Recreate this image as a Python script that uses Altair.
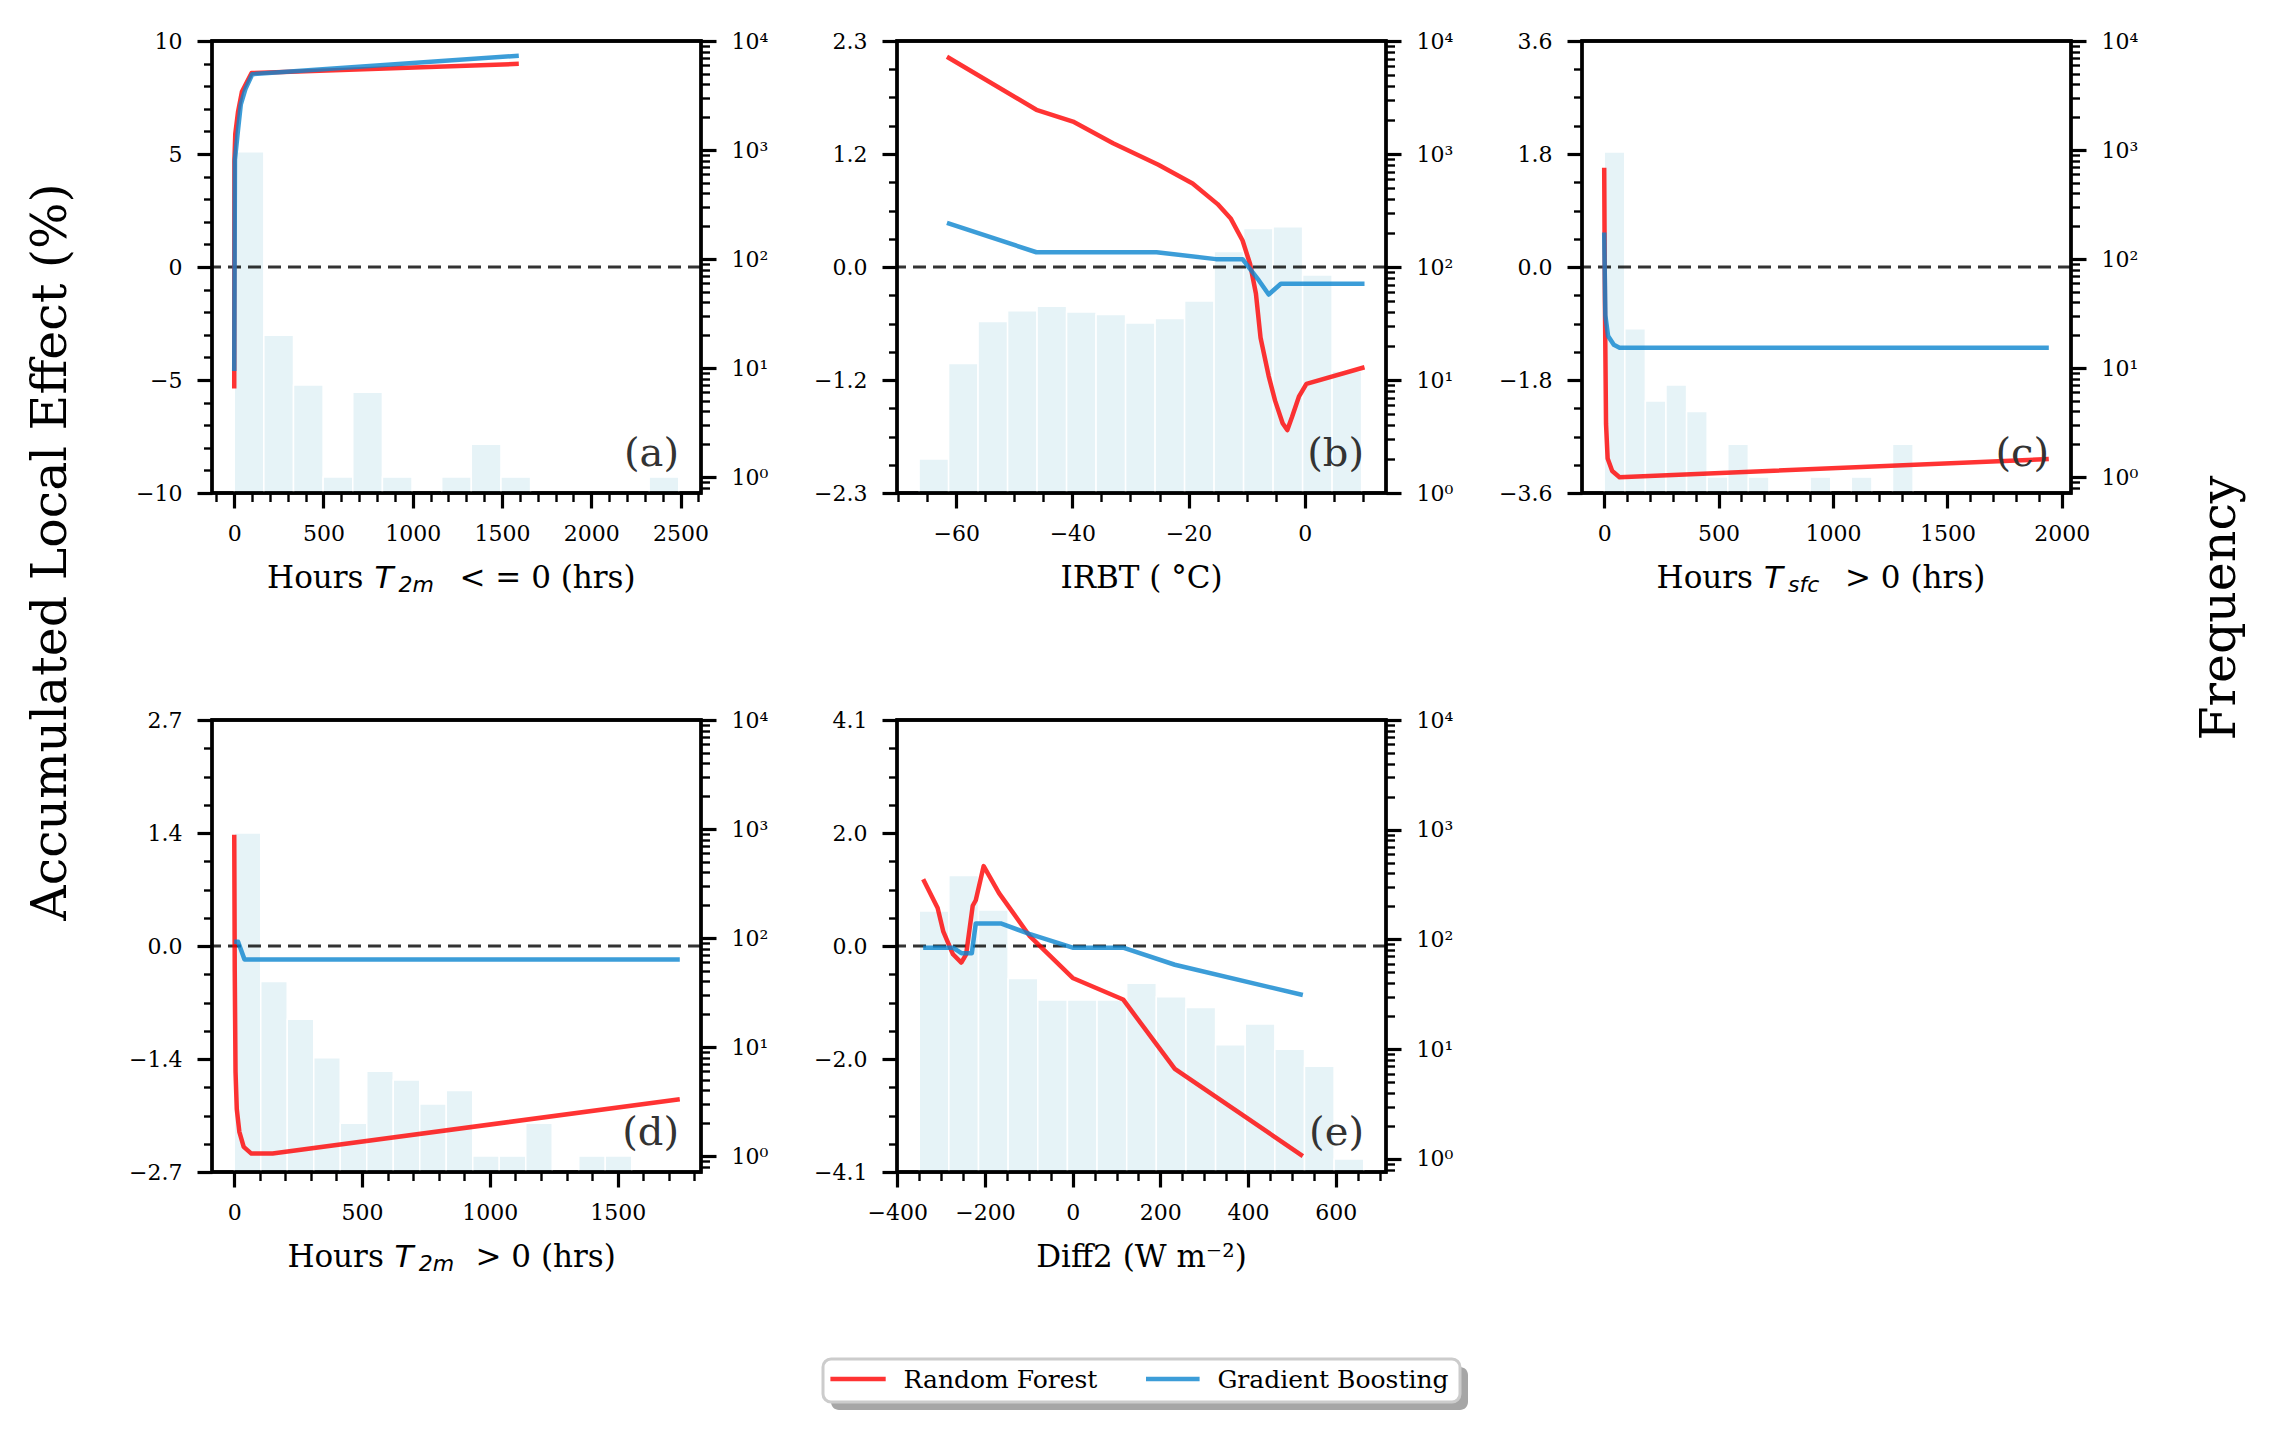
import altair as alt
import pandas as pd
import math

SERIF = "DejaVu Serif"
SANS = "DejaVu Sans"

MODELS = ["Random Forest", "Gradient Boosting"]
LINE_COLORS = ["#ff0000", "#0b84ce"]
BAR_COLOR = "#add8e6"
PANEL_LABELS = ["(a)", "(b)", "(c)", "(d)", "(e)"]
Y_TITLE = "Accumulated Local Effect (%)"
F_TITLE = "Frequency"

# ---------------- panel (a): Hours T2m <= 0 ----------------
a_rf_x = [0, 1, 6, 21, 43, 97, 1594]
a_rf_y = [-5.38, 4.7, 5.9, 6.85, 7.75, 8.58, 8.99]
a_gb_x = [0, 4, 21, 37, 64, 101, 1594]
a_gb_y = [-4.6, 4.75, 6.05, 7.2, 7.9, 8.53, 9.35]
a_edges = [0, 166, 332, 498, 664, 830, 996, 1162, 1328, 1494, 1660, 1826, 1992, 2158, 2324, 2490]
a_counts = [962, 20, 7, 1, 6, 1, 0, 1, 2, 1, 0, 0, 0, 0, 1]

# ---------------- panel (b): IRBT ----------------
b_rf_x = [-61.6, -46.2, -39.9, -33.0, -25.2, -19.3, -15.0, -12.7, -10.7, -9.4, -8.4, -7.6,
          -6.2, -5.1, -3.8, -3.0, -2.2, -1.0, 0.3, 10.3]
b_rf_y = [2.14, 1.60, 1.48, 1.26, 1.04, 0.85, 0.64, 0.49, 0.27, 0.03, -0.27, -0.72,
          -1.11, -1.36, -1.59, -1.66, -1.53, -1.32, -1.19, -1.02]
b_gb_x = [-61.6, -46.2, -25.5, -15.3, -10.7, -8.1, -6.2, -4.1, 10.3]
b_gb_y = [0.45, 0.15, 0.15, 0.08, 0.08, -0.12, -0.28, -0.17, -0.17]
b_edges = [-66.4, -61.32, -56.24, -51.16, -46.08, -41.0, -35.92, -30.84, -25.76, -20.68,
           -15.6, -10.52, -5.44, -0.36, 4.72, 9.8]
b_counts = [2, 14, 33, 41, 45, 40, 38, 32, 35, 50, 137, 219, 227, 85, 12]

# ---------------- panel (c): Hours Tsfc > 0 ----------------
c_rf_x = [0, 3, 8, 15, 35, 67, 1943]
c_rf_y = [1.58, -0.5, -2.5, -3.05, -3.25, -3.35, -3.06]
c_gb_x = [0, 5, 17, 42, 67, 1943]
c_gb_y = [0.55, -0.77, -1.1, -1.24, -1.285, -1.285]
c_edges = [0, 90, 180, 270, 360, 450, 540, 630, 720, 810, 900, 990, 1080, 1170, 1260, 1350]
c_counts = [960, 23, 5, 7, 4, 1, 2, 1, 0, 0, 1, 0, 1, 0, 2]

# ---------------- panel (d): Hours T2m > 0 ----------------
d_rf_x = [0, 2, 5, 10, 20, 37, 67, 150, 1743]
d_rf_y = [1.33, -0.3, -1.5, -1.95, -2.22, -2.40, -2.48, -2.48, -1.83]
d_gb_x = [0, 15, 40, 1743]
d_gb_y = [0.05, 0.05, -0.16, -0.16]
d_edges = [0, 103.7, 207.3, 311, 414.7, 518.3, 622, 725.7, 829.3, 933, 1036.7, 1140.3,
           1244, 1347.7, 1451.3, 1555]
d_counts = [918, 40, 18, 8, 2, 6, 5, 3, 4, 1, 1, 2, 0, 1, 1]

# ---------------- panel (e): Diff2 ----------------
e_rf_x = [-341, -308, -295, -273, -254, -243, -228, -221, -203, -168, -99, 0, 115, 233, 525]
e_rf_y = [1.21, 0.69, 0.26, -0.15, -0.30, -0.15, 0.73, 0.83, 1.45, 0.96, 0.19, -0.58,
          -0.97, -2.23, -3.81]
e_gb_x = [-341, -273, -254, -230, -221, -164, -99, 0, 115, 233, 525]
e_gb_y = [-0.03, -0.03, -0.13, -0.13, 0.41, 0.41, 0.22, -0.03, -0.03, -0.34, -0.89]
e_edges = [-350, -282.4, -214.8, -147.2, -79.6, -12, 55.6, 123.2, 190.8, 258.4, 326,
           393.6, 461.2, 528.8, 596.4, 664]
e_counts = [182, 383, 186, 44, 28, 28, 28, 40, 30, 24, 11, 17, 10, 7, 1]

W, H = 489, 452
TITLE_Y = H + 95


# ---------------- helpers ----------------
def is_major(majors):
    return "indexof([" + ",".join(repr(float(m)) for m in majors) + "], datum.value) >= 0"


def lookup_expr(majors, labels):
    s = ""
    for m, l in zip(majors, labels):
        s += f"datum.value === {float(m)!r} ? '{l}' : "
    return s + "''"


def tick_size(majors):
    return {"condition": {"test": is_major(majors), "value": 15}, "value": 8.5}


def tick_width(majors):
    return {"condition": {"test": is_major(majors), "value": 3.2}, "value": 2.4}


def minor_ticks(lo, hi, step, majors):
    out = []
    k0 = math.ceil(lo / step - 1e-9)
    k1 = math.floor(hi / step + 1e-9)
    for k in range(k0, k1 + 1):
        v = round(k * step, 8)
        if all(abs(v - m) > 1e-6 for m in majors):
            out.append(v)
    return out


def x_axis(majors, step, dom):
    mins = minor_ticks(dom[0], dom[1], step, majors)
    return alt.Axis(values=[float(v) for v in majors] + mins, format="d",
                    labelExpr=f"{is_major(majors)} ? datum.label : ''",
                    tickSize=tick_size(majors), tickWidth=tick_width(majors),
                    labelPadding=15, labelFlush=False, labelOverlap=False, title=None)


def y_axis(vmax, ndiv, labels):
    majors = [vmax, vmax / 2, 0.0, -vmax / 2, -vmax]
    step = vmax / (2 * ndiv)
    mins = minor_ticks(-vmax, vmax, step, majors)
    return alt.Axis(orient="left", values=[float(v) for v in majors] + mins,
                    labelExpr=lookup_expr(majors, labels),
                    tickSize=tick_size(majors), tickWidth=tick_width(majors),
                    labelPadding=15, labelFlush=False, labelOverlap=False, title=None)


SUP = {1: "10\u2070", 10: "10\u00b9", 100: "10\u00b2", 1000: "10\u00b3", 10000: "10\u2074"}


def f_axis(fdom):
    majors = [1, 10, 100, 1000, 10000]
    mins = []
    for e in range(-1, 4):
        for m in range(2, 10):
            v = round(m * 10 ** e, 6)
            if fdom[0] <= v <= fdom[1]:
                mins.append(float(v))
    return alt.Axis(orient="right", values=[float(v) for v in majors] + mins,
                    labelExpr=lookup_expr(majors, [SUP[m] for m in majors]),
                    tickSize=tick_size(majors), tickWidth=tick_width(majors),
                    labelPadding=15, labelFlush=False, labelOverlap=False, title=None)


def text_mark(txt, x, y, size, font=SERIF, align="left", baseline="alphabetic",
              style="normal", color="black", angle=0):
    return alt.Chart(alt.Data(values=[{"t": txt}])).mark_text(
        font=font, fontSize=size, align=align, baseline=baseline, fontStyle=style,
        color=color, angle=angle
    ).encode(x=alt.value(x), y=alt.value(y), text="t:N")


def title_hours(parts):
    # parts: (text, dx from centre, kind)
    cx = W / 2
    out = []
    for txt, dx, kind in parts:
        if kind == "main_r":
            out.append(text_mark(txt, cx + dx, TITLE_Y, 31, align="right"))
        elif kind == "main_l":
            out.append(text_mark(txt, cx + dx, TITLE_Y, 31, align="left"))
        elif kind == "T":
            out.append(text_mark(txt, cx + dx, TITLE_Y, 31, font=SANS, style="italic"))
        elif kind == "sub":
            out.append(text_mark(txt, cx + dx, TITLE_Y + 4, 22, font=SANS, style="italic"))
        elif kind == "center":
            out.append(text_mark(txt, cx + dx, TITLE_Y, 31, align="center"))
    return out


def frame():
    return alt.Chart(alt.Data(values=[{"a": 1}])).mark_rect(
        fillOpacity=0, fill="white", stroke="black", strokeWidth=3.3
    ).encode(x=alt.value(0), x2=alt.value(W), y=alt.value(0), y2=alt.value(H))


def make_panel(rf_x, rf_y, gb_x, gb_y, edges, counts, xdom, xmaj, xstep,
               ymax, yndiv, ylabels, fdom, label, title_layers, extras=()):
    hist = pd.DataFrame({"x0": edges[:-1], "x1": edges[1:], "n": counts})
    hist = hist[hist["n"] > 0].reset_index(drop=True)
    hist["base"] = fdom[0]
    rf_df = pd.DataFrame({"x": rf_x, "y": rf_y, "model": MODELS[0]})
    gb_df = pd.DataFrame({"x": gb_x, "y": gb_y, "model": MODELS[1]})

    xscale = alt.Scale(domain=list(xdom), nice=False, zero=False)
    xax = x_axis(xmaj, xstep, xdom)
    yscale = alt.Scale(domain=[-ymax, ymax], nice=False, zero=False)
    yax = y_axis(ymax, yndiv, ylabels)
    color = alt.Color("model:N", scale=alt.Scale(domain=MODELS, range=LINE_COLORS), legend=None)

    bars = alt.Chart(hist).mark_rect(
        fill=BAR_COLOR, fillOpacity=0.3, stroke="white", strokeWidth=1.5
    ).encode(
        x=alt.X("x0:Q", scale=xscale, axis=xax),
        x2="x1:Q",
        y=alt.Y("n:Q", scale=alt.Scale(type="log", domain=list(fdom), nice=False), axis=f_axis(fdom)),
        y2="base:Q",
    )
    rule = alt.Chart(pd.DataFrame({"y": [0.0]})).mark_rule(
        color="black", opacity=0.8, strokeDash=[13, 7], strokeWidth=3
    ).encode(y=alt.Y("y:Q", scale=yscale, axis=yax))

    def line(df):
        return alt.Chart(df).mark_line(
            strokeWidth=4.5, opacity=0.8, strokeJoin="round", strokeCap="butt"
        ).encode(
            x=alt.X("x:Q", scale=xscale, axis=xax),
            y=alt.Y("y:Q", scale=yscale, axis=yax),
            color=color,
        )

    lab = text_mark(label, W - 22, H - 27, 40, align="right", color="#333333")
    inner = alt.layer(rule, line(rf_df), line(gb_df), frame(), lab, *title_layers, *extras)
    return alt.layer(bars, inner).resolve_scale(y="independent").properties(width=W, height=H)


# ---------------- extras ----------------
anchor = alt.Chart(alt.Data(values=[{"a": 1}])).mark_rect(fill="white").encode(
    x=alt.value(-210), x2=alt.value(-209), y=alt.value(-39), y2=alt.value(-38))
ytitle = text_mark(Y_TITLE, -161, 511, 49, align="center", baseline="middle", angle=270)
ftitle = text_mark(F_TITLE, 638, 567, 49, align="center", baseline="middle", angle=270)

leg_shadow = alt.Chart(alt.Data(values=[{"a": 1}])).mark_rect(fill="#a6a6a6", cornerRadius=8).encode(
    x=alt.value(-66), x2=alt.value(571), y=alt.value(647), y2=alt.value(690))
leg_box = alt.Chart(alt.Data(values=[{"a": 1}])).mark_rect(
    fill="white", stroke="#cccccc", strokeWidth=3, cornerRadius=8).encode(
    x=alt.value(-74), x2=alt.value(563), y=alt.value(639), y2=alt.value(682))
leg_rf = alt.Chart(alt.Data(values=[{"a": 1}])).mark_rule(
    color=LINE_COLORS[0], opacity=0.8, strokeWidth=4.5).encode(
    x=alt.value(-66.6), x2=alt.value(-11.3), y=alt.value(659))
leg_gb = alt.Chart(alt.Data(values=[{"a": 1}])).mark_rule(
    color=LINE_COLORS[1], opacity=0.8, strokeWidth=4.5).encode(
    x=alt.value(249), x2=alt.value(302.6), y=alt.value(659))
leg_rf_t = text_mark(MODELS[0], 6.6, 668, 25)
leg_gb_t = text_mark(MODELS[1], 320.4, 668, 25)

# ---------------- panels ----------------
pa = make_panel(a_rf_x, a_rf_y, a_gb_x, a_gb_y, a_edges, a_counts,
                (-124.5, 2614.5), [0, 500, 1000, 1500, 2000, 2500], 100,
                10.0, 5, ["10", "5", "0", "\u22125", "\u221210"], (0.715, 10000), PANEL_LABELS[0],
                title_hours([("Hours", -93, "main_r"), ("T", -82, "T"), ("2m", -58, "sub"),
                             ("< = 0 (hrs)", 3, "main_l")]),
                extras=(anchor, ytitle))
pb = make_panel(b_rf_x, b_rf_y, b_gb_x, b_gb_y, b_edges, b_counts,
                (-70.2, 14.0), [-60, -40, -20, 0], 5,
                2.3, 4, ["2.3", "1.2", "0.0", "\u22121.2", "\u22122.3"], (1, 10000), PANEL_LABELS[1],
                title_hours([("IRBT ( \u00b0C)", 0, "center")]))
pc = make_panel(c_rf_x, c_rf_y, c_gb_x, c_gb_y, c_edges, c_counts,
                (-97, 2040), [0, 500, 1000, 1500, 2000], 100,
                3.6, 4, ["3.6", "1.8", "0.0", "\u22121.8", "\u22123.6"], (0.715, 10000), PANEL_LABELS[2],
                title_hours([("Hours", -73.5, "main_r"), ("T", -62.5, "T"), ("sfc", -38.5, "sub"),
                             ("> 0 (hrs)", 18.5, "main_l")]),
                extras=(ftitle,))
pd_ = make_panel(d_rf_x, d_rf_y, d_gb_x, d_gb_y, d_edges, d_counts,
                 (-87, 1826), [0, 500, 1000, 1500], 100,
                 2.7, 4, ["2.7", "1.4", "0.0", "\u22121.4", "\u22122.7"], (0.715, 10000), PANEL_LABELS[3],
                 title_hours([("Hours", -72.7, "main_r"), ("T", -62, "T"), ("2m", -37.7, "sub"),
                              ("> 0 (hrs)", 19, "main_l")]))
pe = make_panel(e_rf_x, e_rf_y, e_gb_x, e_gb_y, e_edges, e_counts,
                (-400.7, 714.7), [-400, -200, 0, 200, 400, 600], 50,
                4.1, 4, ["4.1", "2.0", "0.0", "\u22122.0", "\u22124.1"], (0.76, 10000), PANEL_LABELS[4],
                title_hours([("Diff2 (W m\u207b\u00b2)", 0, "center")]),
                extras=(leg_shadow, leg_box, leg_rf, leg_gb, leg_rf_t, leg_gb_t))

chart = alt.concat(
    pa, pb, pc, pd_, pe, columns=3, spacing={"row": 227, "column": 196}, bounds="flush"
).properties(padding=0, background="white").configure_view(
    stroke="black", strokeWidth=3.3
).configure_axis(
    labelFont=SERIF, labelFontSize=22, labelColor="black", tickColor="black",
    domain=False, grid=False
)

chart.save("out.html", embed_options={"renderer": "svg", "actions": False})
